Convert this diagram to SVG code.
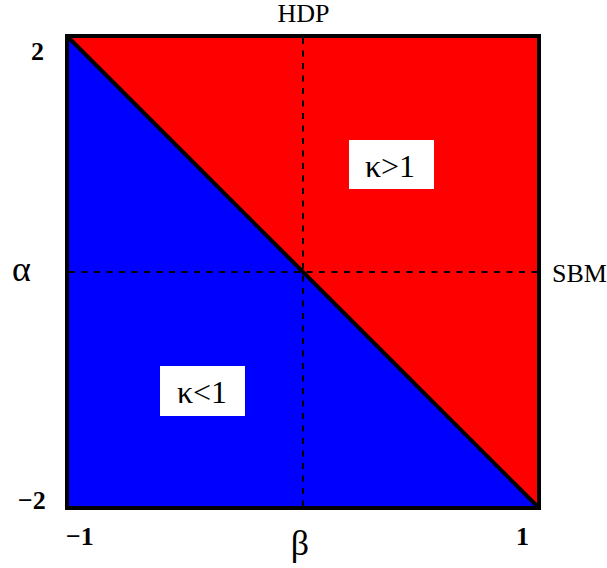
<svg xmlns="http://www.w3.org/2000/svg" width="607" height="568" viewBox="0 0 607 568">
<style>
.lbl{font-family:"Liberation Serif","Times New Roman",serif;fill:#000}
.num{font-family:"Liberation Serif","Times New Roman",serif;font-weight:bold;font-size:26px;fill:#000}
.dash{stroke:#000;stroke-width:2;stroke-dasharray:6 6.5;fill:none}
.box{fill:#fff}
</style>
<rect width="607" height="568" fill="#fff"/>
<g id="regions">
<polygon id="red-region" points="67,36 539,36 539,508" fill="#ff0000"/>
<polygon id="blue-region" points="67,36 67,508 539,508" fill="#0000ff"/>
</g>
<g id="connectors">
<line class="dash" x1="303" y1="38" x2="303" y2="506"/>
<line class="dash" x1="69" y1="272" x2="537" y2="272"/>
<line x1="67" y1="36" x2="539" y2="508" stroke="#000" stroke-width="4"/>
</g>
<rect id="frame" x="67" y="36" width="472" height="472" fill="none" stroke="#000" stroke-width="4"/>
<g id="kappa-gt">
<rect class="box" x="349" y="140" width="85" height="49"/>
<text class="lbl" x="390" y="177" font-size="32" text-anchor="middle">κ&gt;1</text>
</g>
<g id="kappa-lt">
<rect class="box" x="160" y="366" width="85" height="50"/>
<text class="lbl" x="202" y="403" font-size="32" text-anchor="middle">κ&lt;1</text>
</g>
<g id="hdp"><text class="lbl" x="303.5" y="22" font-size="26" text-anchor="middle">HDP</text></g>
<g id="sbm"><text class="lbl" x="552" y="282" font-size="26">SBM</text></g>
<g id="alpha"><text class="lbl" x="12" y="281" font-size="36">α</text></g>
<g id="beta"><text class="lbl" x="300" y="555" font-size="36" text-anchor="middle">β</text></g>
<g id="ticks">
<text class="num" x="31" y="60">2</text>
<text class="num" x="18" y="509">−2</text>
<text class="num" x="66" y="545">−1</text>
<text class="num" x="516" y="545">1</text>
</g>
</svg>
